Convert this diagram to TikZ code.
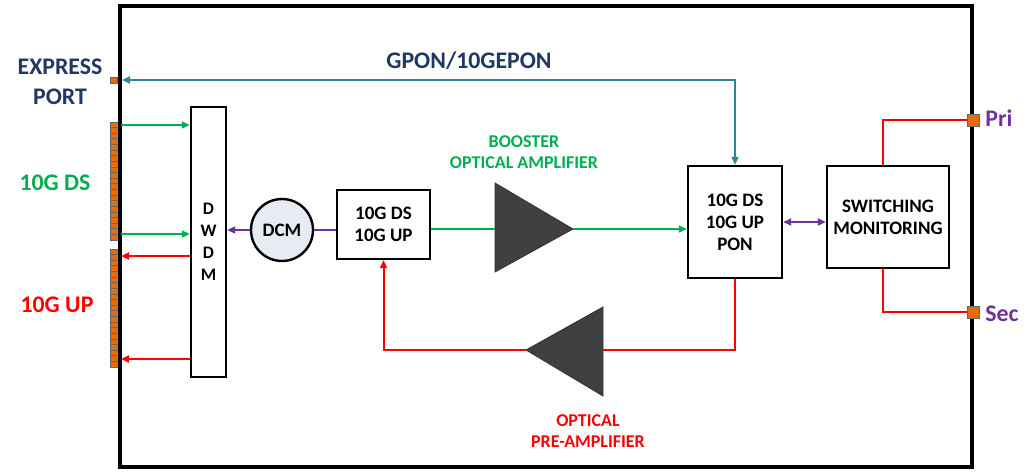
\documentclass[tikz,border=0pt]{standalone}
\usepackage{fontspec}
\setmainfont{Carlito}
\usetikzlibrary{arrows.meta}
\definecolor{navy}{HTML}{1F3864}
\definecolor{tealc}{HTML}{31849B}
\definecolor{grn}{HTML}{00B050}
\definecolor{rd}{HTML}{FF0000}
\definecolor{purp}{HTML}{7030A0}
\definecolor{orng}{HTML}{E46C0A}
\definecolor{tri}{HTML}{404040}
\definecolor{dcmfill}{HTML}{E7EBF3}
\begin{document}
\begin{tikzpicture}[x=0.5pt,y=-0.5pt,
 box/.style={draw=black, line width=1.2pt, fill=white, inner sep=0pt, align=center, font=\bfseries\fontsize{9.5}{11}\selectfont},
 lbl/.style={font=\bfseries\fontsize{11.9}{15}\selectfont, align=center, inner sep=0pt},
 small/.style={font=\bfseries\fontsize{9}{10.5}\selectfont, align=center, inner sep=0pt},
 wire/.style={line width=1pt},
 tip/.style={-{Triangle[length=4pt,width=3.5pt]}},
 dtip/.style={{Triangle[length=4pt,width=3.5pt]}-{Triangle[length=4pt,width=3.5pt]}},
 port/.style={draw=black!60, fill=orng, line width=0.4pt, inner sep=0pt},
 amp/.style={fill=tri, draw=tri!80!black, line width=0.4pt}]
\useasboundingbox (0,0) rectangle (1026,471);

% connector strips
\foreach \i in {0,...,20}{
  \draw[port] (110,{122+\i*5.62}) rectangle (118,{122+(\i+1)*5.62});
  \draw[port] (110,{249+\i*5.62}) rectangle (118,{249+(\i+1)*5.62});
}
\node[port, minimum width=3.5pt, minimum height=3pt] (expr) at (114,80) {};

% outer box
\draw[line width=2pt] (120,5.5) rectangle (972,467);

% ports on the right
\node[port, minimum size=6pt] (pri) at (973,120) {};
\node[port, minimum size=6pt] (sec) at (973,312) {};

% labels
\node[lbl, text=navy] (lexp) at (60,82) {EXPRESS\\PORT};
\node[lbl, text=grn] (lds) at (55,183) {10G DS};
\node[lbl, text=rd] (lup) at (57,305) {10G UP};
\node[lbl, text=navy] (lgpon) at (469,61) {GPON/10GEPON};
\node[small, text=grn] (lboost) at (524,152) {BOOSTER\\OPTICAL AMPLIFIER};
\node[small, text=rd] (lpre) at (588,431) {OPTICAL\\PRE-AMPLIFIER};
\node[lbl, text=purp, anchor=west] (lpri) at (985,118) {Pri};
\node[lbl, text=purp, anchor=west] (lsec) at (985,314) {Sec};

% blocks
\node[box, minimum width=17.5pt, minimum height=135pt, font=\bfseries\fontsize{8.8}{11}\selectfont] (dwdm) at (208.5,242) {D\\W\\D\\M};
\node[box, circle, fill=dcmfill, minimum size=31pt] (dcm) at (282,230) {DCM};
\node[box, minimum width=46.5pt, minimum height=34.5pt] (box10) at (383.5,224.5) {10G DS\\10G UP};
\node[box, minimum width=47pt, minimum height=56pt] (pon) at (735,222) {10G DS\\10G UP\\PON};
\node[box, minimum width=61pt, minimum height=51pt] (sw) at (888,217) {SWITCHING\\MONITORING};

% amplifiers
\coordinate (bIn) at (495,229);
\coordinate (bOut) at (573,229);
\draw[amp] (495,183) -- (bOut) -- (495,272) -- cycle;
\coordinate (pIn) at (603,350);
\coordinate (pOut) at (526,350);
\draw[amp] (603,307) -- (pOut) -- (603,396) -- cycle;

% strip connectors
\coordinate (ds1) at (121,125);
\coordinate (ds2) at (121,234);
\coordinate (up1) at (121,256);
\coordinate (up2) at (121,359);
\draw[wire, grn, tip] (ds1) -- (ds1 -| dwdm.west);
\draw[wire, grn, tip] (ds2) -- (ds2 -| dwdm.west);
\draw[wire, rd, tip] (up1 -| dwdm.west) -- (up1);
\draw[wire, rd, tip] (up2 -| dwdm.west) -- (up2);

% express
\coordinate (expTip) at (122,80);
\draw[wire, tealc, dtip] (expTip) -- (expTip -| pon.north) -- (pon.north);

% main chain
\draw[wire, purp, tip] (dcm.west) -- (dcm.west -| dwdm.east);
\draw[wire, purp] (dcm.east) -- (dcm.east -| box10.west);
\draw[wire, grn] (box10.east |- bIn) -- (bIn);
\draw[wire, grn, tip] (bOut) -- (bOut -| pon.west);
\draw[wire, purp, dtip] (pon.east) -- (pon.east -| sw.west);
\draw[wire, rd] (pon.south) |- (pIn);
\draw[wire, rd, tip] (pOut) -| (box10.south);
\coordinate (swTop) at (883,166);
\coordinate (swBot) at (883,268);
\draw[wire, rd] (swTop) |- (pri.west);
\draw[wire, rd] (swBot) |- (sec.west);
\end{tikzpicture}
\end{document}
